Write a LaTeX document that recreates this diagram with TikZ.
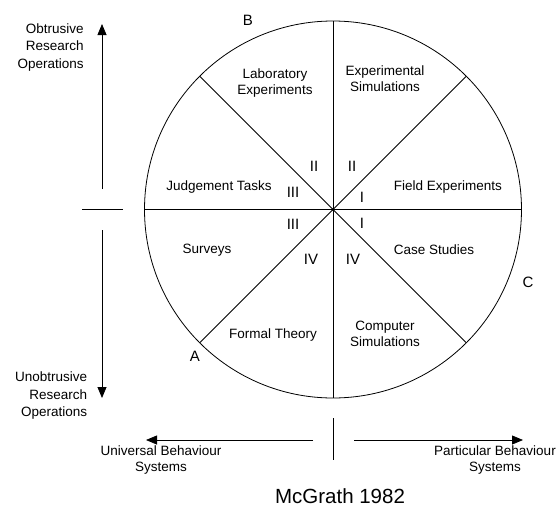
\documentclass[tikz,border=0pt]{standalone}
\usepackage{fontspec}
\setmainfont{Liberation Sans}
\usetikzlibrary{arrows.meta}
\begin{document}
\begin{tikzpicture}[x=1pt,y=-1pt, line width=0.8pt,
  lbl/.style={font=\fontsize{13.5}{16}\selectfont, align=center, inner sep=0pt},
  num/.style={font=\fontsize{15}{15}\selectfont, inner sep=0pt},
  letter/.style={font=\fontsize{15}{15}\selectfont, inner sep=0pt},
  side/.style={font=\fontsize{13.5}{17.5}\selectfont, align=right, inner sep=0pt},
  axis/.style={-{Triangle[length=11pt,width=9pt]}},
]
\useasboundingbox (0,0) rectangle (560,507);
\coordinate (O) at (333,209.5);
\draw (O) circle[radius=188.5];
% diameters
\coordinate (N) at (333,21);   \coordinate (S) at (333,398);
\coordinate (W) at (144.5,209.5); \coordinate (E) at (521.5,209.5);
\coordinate (NW) at (199.7,76.2); \coordinate (SE) at (466.3,342.8);
\coordinate (SW) at (199.7,342.8); \coordinate (NE) at (466.3,76.2);
\draw (N) -- (S);
\draw (W) -- (E);
\draw (NW) -- (SE);
\draw (SW) -- (NE);
\fill (O) circle[radius=1.6];
% axes
\coordinate (u1) at (102,189); \coordinate (u2) at (102,24);
\coordinate (d1) at (102,230); \coordinate (d2) at (102,398);
\coordinate (l1) at (313,440); \coordinate (l2) at (146,440);
\coordinate (r1) at (354,440); \coordinate (r2) at (523,440);
\coordinate (h1) at (82,209.5); \coordinate (h2) at (123,209.5);
\coordinate (v1) at (333,418); \coordinate (v2) at (333,460);
\draw[axis] (u1) -- (u2);
\draw[axis] (d1) -- (d2);
\draw[axis] (l1) -- (l2);
\draw[axis] (r1) -- (r2);
\draw (h1) -- (h2);
\draw (v1) -- (v2);
% sector labels
\node[lbl] (lab) at (275,83) {Laboratory\\Experiments};
\node[lbl] (esim) at (385,79) {Experimental\\Simulations};
\node[lbl] (jt) at (219,187) {Judgement Tasks};
\node[lbl] (fe) at (448,187) {Field Experiments};
\node[lbl] (sv) at (207,250) {Surveys};
\node[lbl] (cs) at (434,250) {Case Studies};
\node[lbl] (ft) at (273,335) {Formal Theory};
\node[lbl] (csim) at (385,334) {Computer\\Simulations};
% numerals
\node[num] (n1) at (314,166) {II};
\node[num] (n2) at (352,166) {II};
\node[num] (n3) at (293,192) {III};
\node[num] (n4) at (362,197) {I};
\node[num] (n5) at (293,224) {III};
\node[num] (n6) at (362,223) {I};
\node[num] (n7) at (311,259) {IV};
\node[num] (n8) at (353,259) {IV};
% letters
\node[letter] (B) at (248,20) {B};
\node[letter] (A) at (195,356) {A};
\node[letter] (C) at (528,282) {C};
% axis labels
\node[side, anchor=east] (obt) at (84,47.5) {Obtrusive\\Research\\Operations};
\node[side, anchor=east] (unobt) at (87.5,396) {Unobtrusive\\Research\\Operations};
\node[lbl] (univ) at (161,460) {Universal Behaviour\\Systems};
\node[lbl] (part) at (495,460) {Particular Behaviour\\Systems};
\node[font=\fontsize{20.5}{20.5}\selectfont, inner sep=0pt] (mc) at (340,496.5) {McGrath 1982};
\end{tikzpicture}
\end{document}
